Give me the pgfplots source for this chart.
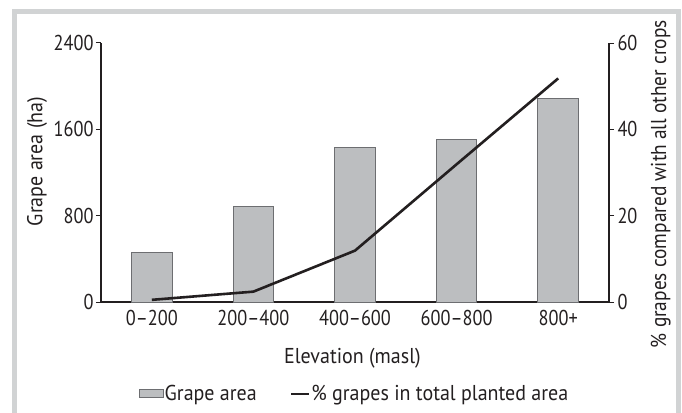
\documentclass[border=0pt]{standalone}
\usepackage{fontspec}
\setmainfont[FakeStretch=0.93]{PT Sans}
\newfontfamily\tickfamily[FakeStretch=0.85]{PT Sans}
\newfontfamily\rlabfamily[FakeStretch=0.9]{PT Sans}
\usepackage{pgfplots}
\pgfplotsset{compat=1.18}
\definecolor{bargray}{HTML}{BCBEC0}
\definecolor{baredge}{HTML}{6D6E71}
\definecolor{ink}{HTML}{231F20}
\definecolor{framegray}{HTML}{D1D3D4}
\newcommand{\lblfont}{\fontsize{21.5}{24}\selectfont}
\newcommand{\tickfont}{\tickfamily\fontsize{21.5}{24}\selectfont}
\newcommand{\rlabfont}{\rlabfamily\fontsize{21.5}{24}\selectfont}
\pgfplotsset{
  barleg/.style={legend image code/.code={\draw[##1] (0pt,-4pt) rectangle (24pt,4pt);}},
  lineleg/.style={legend image code/.code={\draw[##1] (0pt,0pt) -- (18pt,0pt);}},
}
\begin{document}
\begin{tikzpicture}[x=1pt,y=1pt]
\useasboundingbox (-101,-110) rectangle (581,302);
\draw[framegray, line width=5pt] (-86.5,-125) -- (-86.5,290.5) -- (577.5,290.5) -- (577.5,-125);
\begin{axis}[
  at={(0,0)}, anchor=south west,
  scale only axis, width=508pt, height=259pt,
  xmin=-0.5, xmax=4.5, ymin=0, ymax=2400,
  axis x line*=bottom, axis y line*=left,
  axis line style={ink, line width=1.2pt},
  xtick={0,1,2,3,4},
  xticklabels={0–200,200–400,400–600,600–800,800+},
  x tick style={draw=none},
  ytick={0,800,1600,2400},
  y tick style={ink, line width=1pt},
  tick align=outside, major tick length=5pt,
  tick label style={font=\tickfont, text=ink},
  yticklabel style={xshift=1pt},
  /pgf/number format/assume math mode=true,
  /pgf/number format/set thousands separator={},
  every axis y label/.style={at={(axis description cs:-0.126,0.5425)}, anchor=center, rotate=90},
  ylabel={Grape area (ha)},
  every axis x label/.style={at={(axis description cs:0.495,-0.216)}, anchor=center},
  xlabel={Elevation (masl)},
  label style={font=\lblfont, text=ink},
  legend style={at={(axis description cs:0.498,-0.355)}, anchor=center, draw=none, fill=none,
    font=\lblfont, text=ink, legend columns=2,
    /tikz/every even column/.append style={column sep=32pt},
    nodes={inner xsep=1pt}},
  legend cell align=left,
]
\addplot[ybar, bar width=0.4, fill=bargray, draw=baredge, line width=1pt, barleg]
  coordinates {(0,455) (1,887) (2,1433) (3,1508) (4,1884)};
\addlegendentry{Grape area}
\addlegendimage{ink, line width=2.6pt, lineleg}
\addlegendentry{\% grapes in total planted area}
\end{axis}
\begin{axis}[
  at={(0,0)}, anchor=south west,
  scale only axis, width=508pt, height=259pt,
  xmin=-0.5, xmax=4.5, ymin=0, ymax=60,
  axis x line=none, axis y line*=right,
  axis line style={ink, line width=1.2pt},
  ytick={0,20,40,60},
  y tick style={ink, line width=1pt},
  tick align=outside, major tick length=5pt,
  tick label style={font=\tickfont, text=ink},
  /pgf/number format/assume math mode=true,
  every axis y label/.style={at={(axis description cs:1.102,0.455)}, anchor=center, rotate=90},
  ylabel={\% grapes compared with all other crops},
  label style={font=\rlabfont, text=ink},
]
\addplot[ink, line width=2.6pt, line join=round] coordinates {(0,0.5) (1,2.4) (2,11.9) (3,31.9) (4,51.8)};
\end{axis}
\end{tikzpicture}
\end{document}
